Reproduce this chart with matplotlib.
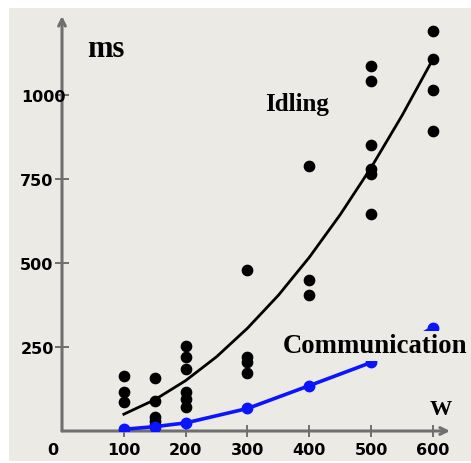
import matplotlib
matplotlib.use("Agg")
import matplotlib.pyplot as plt
from matplotlib.patches import Rectangle
from matplotlib.transforms import ScaledTranslation

# idle time of each run, grouped by workload W
idle_w = [100] * 3 + [150] * 5 + [200] * 6 + [300] * 4 + [400] * 3 + [500] * 6 + [600] * 4
idle_ms = [165, 117, 85,
           158, 88, 42, 30, 18,
           253, 220, 185, 115, 95, 70,
           480, 220, 205, 172,
           790, 450, 405,
           1087, 1041, 852, 780, 765, 646,
           1190, 1107, 1016, 894]

# trend line for idling
trend_w = [100, 150, 200, 250, 300, 350, 400, 450, 500, 550, 600]
trend_ms = [50, 93, 150, 221, 306, 404, 517, 644, 784, 939, 1107]

# communication time
comm_w = [100, 150, 200, 300, 400, 500, 600]
comm_ms = [5, 13, 24, 67, 135, 204, 308]

x_ticks = [100, 200, 300, 400, 500, 600]
y_ticks = [250, 500, 750, 1000]

bg = "#ECEAE4"
axis_col = "#6f6f6f"
tick_font = dict(family="DejaVu Sans", weight="bold", size=11.5)
serif = dict(family="Liberation Serif", weight="bold")

fig = plt.figure(figsize=(4.71, 4.64), dpi=100)
fig.patch.set_facecolor("white")
fig.patches.append(Rectangle((9 / 471, 2 / 464), 462 / 471, 453 / 464,
                             transform=fig.transFigure, facecolor=bg,
                             edgecolor="none", zorder=-5))

ax = fig.add_axes([62 / 471, 32 / 464, 388 / 471, 415 / 464])
ax.set_facecolor("none")
ax.set_xlim(0, 627.5)
ax.set_ylim(0, 1235)
for s in ax.spines.values():
    s.set_visible(False)

# axes drawn as arrows
arrow = dict(arrowstyle="->", color=axis_col, lw=2.2, mutation_scale=12,
             shrinkA=0, shrinkB=0)
ax.annotate("", xy=(1, 0), xytext=(0, 0), xycoords="axes fraction",
            arrowprops=arrow, zorder=1)
ax.annotate("", xy=(0, 1), xytext=(0, 0), xycoords="axes fraction",
            arrowprops=arrow, zorder=1)

ax.set_xticks(x_ticks)
ax.set_yticks(y_ticks)
ax.set_xticklabels([str(v) for v in x_ticks], fontdict=tick_font)
ax.set_yticklabels([str(v) for v in y_ticks], fontdict=tick_font)
ax.tick_params(axis="x", direction="inout", length=8, width=1.4,
               color=axis_col, pad=4)
ax.tick_params(axis="y", direction="inout", length=10, width=1.4,
               color=axis_col, pad=1)
# the 1000 label sits further right, over the axis
lab = ax.yaxis.get_major_ticks()[-1].label1
lab.set_transform(lab.get_transform() + ScaledTranslation(0.12, 0, fig.dpi_scale_trans))

ax.text(0, 0, "0", fontdict=tick_font, ha="center", va="center",
        transform=ax.transData + ScaledTranslation(-0.09, -0.19, fig.dpi_scale_trans))

ax.plot(trend_w, trend_ms, color="black", lw=2, zorder=2)
ax.scatter(idle_w, idle_ms, s=55, color="black", zorder=3, clip_on=False)
ax.plot(comm_w, comm_ms, color="#0a14ff", lw=2.6, marker="o", ms=7.5, zorder=3)

ax.text(40, 1137, "ms", size=22, ha="left", va="center", **serif)
ax.text(328, 976, "Idling", size=18, ha="left", va="center", **serif)
ax.text(357, 253, "Communication", size=19.3, ha="left", va="center", zorder=6,
        bbox=dict(boxstyle="square,pad=0.1", fc=bg, ec="none"), **serif)
ax.text(613, 65, "W", size=16, ha="center", va="center", **serif)

fig.savefig("out.png", dpi=100, facecolor=fig.get_facecolor())
